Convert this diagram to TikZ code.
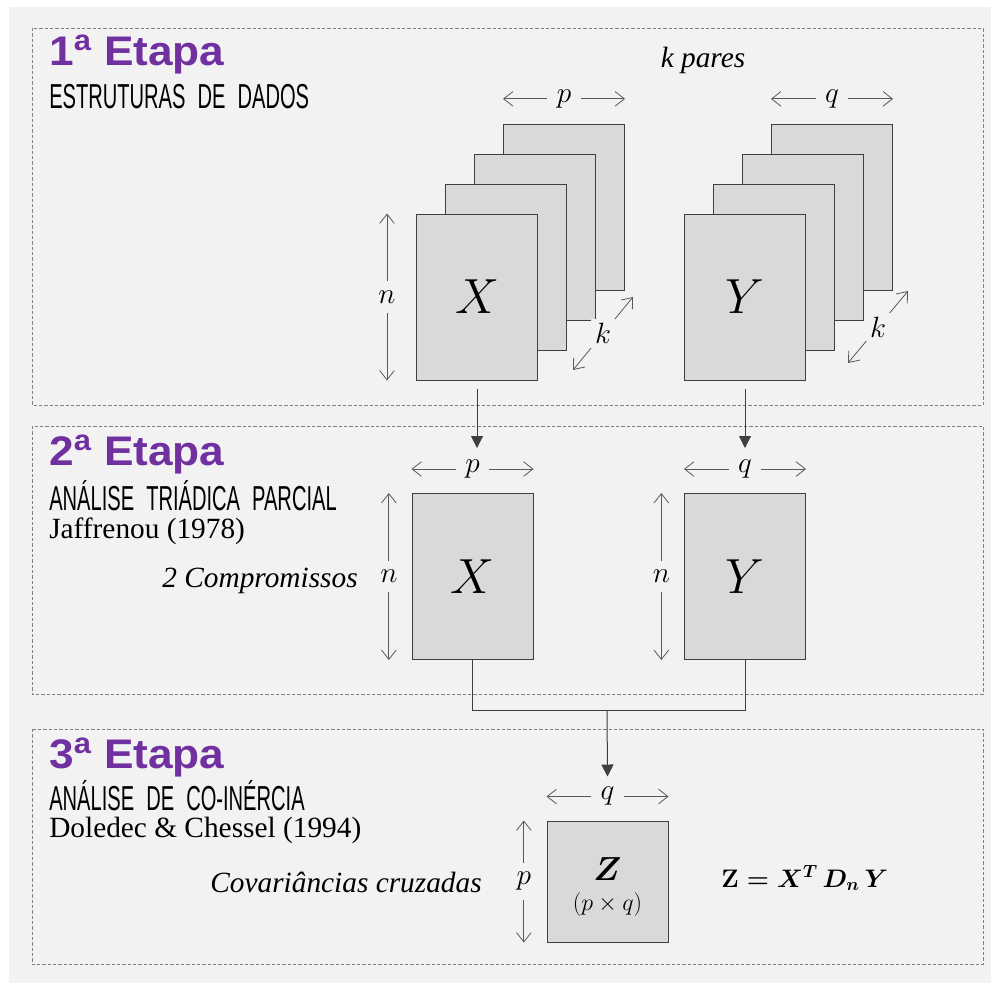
\RequirePackage{fix-cm}
\documentclass[tikz,border=0pt]{standalone}
\usepackage{fontspec}
\usepackage{bm}
\usepackage{graphicx}
\setmainfont{Liberation Serif}
\setsansfont{Liberation Sans}
\usetikzlibrary{arrows.meta,calc}
\definecolor{etapapurple}{HTML}{7030A0}
\definecolor{pagegray}{HTML}{F2F2F2}
\definecolor{sheetgray}{HTML}{D9D9D9}
\definecolor{edgegray}{HTML}{3F3F3F}
\definecolor{dimgray}{HTML}{595959}
\newcommand{\fsz}[1]{\fontsize{#1}{#1}\selectfont}
\newcommand{\cond}[1]{\scalebox{0.58}[1]{#1}}
\newcommand{\wsp}{\hspace{0.6em}}
\newcommand{\wide}[1]{\scalebox{1.07}[1]{#1}}
\newcommand{\coinertia}{{\boldmath$\mathbf{Z} = X^{T}\,D_{n}\,Y$}}

\begin{document}
\begin{tikzpicture}[x=0.75pt, y=-0.75pt, >=Latex,
  sheet/.style={draw=edgegray, fill=sheetgray, line width=0.75pt, inner sep=0pt,
    minimum width=90.75pt, minimum height=124.5pt, font=\fsz{37pt}},
  stage/.style={draw=black!50, line width=0.75pt, dash pattern=on 2.5pt off 1.5pt},
  dimline/.style={draw=dimgray, line width=0.6pt,
    {Straight Barb[length=7pt,width=11pt]}-{Straight Barb[length=7pt,width=11pt]}},
  dimlab/.style={fill=pagegray, inner sep=7pt, font=\fsz{22pt}},
  flow/.style={draw=edgegray, line width=0.75pt, -{Triangle[length=9pt,width=9pt]}},
  link/.style={draw=edgegray, line width=0.75pt},
  etapa/.style={anchor=base west, inner sep=0pt, text=etapapurple, font=\sffamily\bfseries\fsz{31pt}},
  tema/.style={anchor=base west, inner sep=0pt, font=\sffamily\fsz{26pt}},
  autor/.style={anchor=base west, inner sep=0pt, font=\fsz{22pt}},
  obs/.style={inner sep=0pt, font=\itshape\fsz{22pt}}]

  \useasboundingbox[fill=white] (0,0) rectangle (991,983);
  \fill[pagegray] (9,7) rectangle (991,983);

  % the three stages
  \draw[stage] (32,28) rectangle (983,405);
  \draw[stage] (32,426) rectangle (983,694);
  \draw[stage] (32,729) rectangle (983,964);

  % 1a etapa
  \node[etapa] (e1) at (49,65) {\wide{1\textsuperscript{a} Etapa}};
  \node[tema] (t1) at (49,108) {\cond{ESTRUTURAS\wsp DE\wsp DADOS}};
  \node[obs, anchor=base] (kpares) at (703,67) {k pares};

  \foreach \i in {3,2,1} {
    \node[sheet] (xs\i) at ({477+29*\i},{297-30*\i}) {};
    \node[sheet] (ys\i) at ({745+29*\i},{297-30*\i}) {};
  }
  \node[sheet] (xa) at (477,297) {$X$};
  \node[sheet] (ya) at (745,297) {$Y$};

  \draw[dimline] ([yshift=18.5pt]xs3.north west) -- ([yshift=18.5pt]xs3.north east)
    node[dimlab, midway] (pa) {$p$};
  \draw[dimline] ([yshift=18.5pt]ys3.north west) -- ([yshift=18.5pt]ys3.north east)
    node[dimlab, midway] (qa) {$q$};
  \draw[dimline] ([xshift=-21.75pt]xa.north west) -- ([xshift=-21.75pt]xa.south west)
    node[dimlab, midway] (na) {$n$};

  \coordinate (kx1) at (573,370);
  \coordinate (kx2) at (633,297);
  \coordinate (ky1) at (848,363);
  \coordinate (ky2) at (908,291);
  \draw[dimline] (kx1) -- (kx2) node[dimlab, inner sep=3pt, midway] (kxa) {$k$};
  \draw[dimline] (ky1) -- (ky2) node[dimlab, inner sep=3pt, midway] (kya) {$k$};

  % 2a etapa
  \node[etapa] (e2) at (49,465) {\wide{2\textsuperscript{a} Etapa}};
  \node[tema] (t2) at (49,510) {\cond{ANÁLISE\wsp TRIÁDICA\wsp PARCIAL}};
  \node[autor] (a2) at (49,538) {Jaffrenou (1978)};
  \node[obs, anchor=base east] (comp) at (358,587) {2 Compromissos};

  \node[sheet] (xb) at (472.5,576.5) {$X$};
  \node[sheet] (yb) at (745,576.5) {$Y$};

  \draw[dimline] ([yshift=18pt]xb.north west) -- ([yshift=18pt]xb.north east)
    node[dimlab, midway] (pb) {$p$};
  \draw[dimline] ([yshift=18pt]yb.north west) -- ([yshift=18pt]yb.north east)
    node[dimlab, midway] (qb) {$q$};
  \draw[dimline] ([xshift=-17pt]xb.north west) -- ([xshift=-17pt]xb.south west)
    node[dimlab, midway] (nbx) {$n$};
  \draw[dimline] ([xshift=-17pt]yb.north west) -- ([xshift=-17pt]yb.south west)
    node[dimlab, midway] (nby) {$n$};

  \draw[flow] ($(xa.south)+(0,8)$) -- ($(xa.south |- xb.north)+(0,-45)$);
  \draw[flow] ($(ya.south)+(0,8)$) -- ($(ya.south |- yb.north)+(0,-45)$);

  % 3a etapa
  \node[etapa] (e3) at (49,768) {\wide{3\textsuperscript{a} Etapa}};
  \node[tema] (t3) at (49,810) {\cond{ANÁLISE\wsp DE\wsp CO-INÉRCIA}};
  \node[autor] (a3) at (49,837) {Doledec \& Chessel (1994)};
  \node[obs, anchor=base east] (cov) at (482,892) {Covariâncias cruzadas};

  \node[sheet, minimum height=90.75pt] (zm) at (607.5,881.5) {};
  \node[font=\fsz{25pt}] (zl) at ($(zm.center)+(0,-12)$) {$\bm{Z}$};
  \node[font=\fsz{18pt}] (zd) at ($(zm.center)+(0,23)$) {$(p\times q)$};

  \draw[dimline] ([yshift=18pt]zm.north west) -- ([yshift=18pt]zm.north east)
    node[dimlab, midway] (qz) {$q$};
  \draw[dimline] ([xshift=-17pt]zm.north west) -- ([xshift=-17pt]zm.south west)
    node[dimlab, midway] (pz) {$p$};

  \node[anchor=base west, inner sep=0pt, font=\fsz{19pt}] (eqz) at (721,887) {\coinertia};

  \coordinate (join) at (607,710);
  \draw[link] (xb.south) |- (join) -| (yb.south);
  \draw[flow] (join) -- ($(zm.north)+(0,-44)$);
\end{tikzpicture}
\end{document}
